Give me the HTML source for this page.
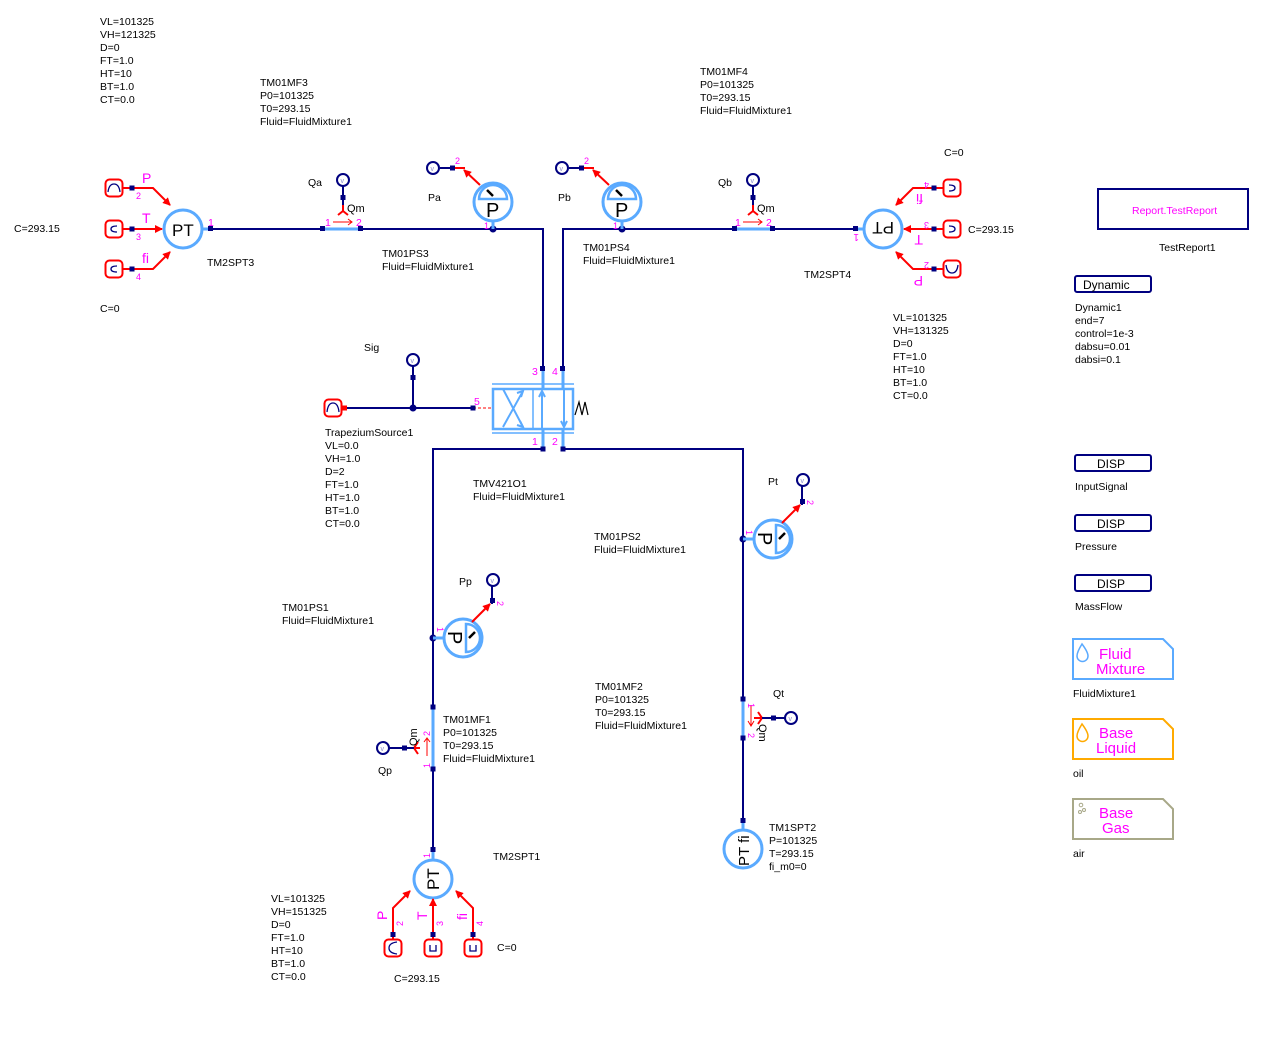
<!DOCTYPE html>
<html><head><meta charset="utf-8"><style>
html,body{margin:0;padding:0;background:#fff;}
svg{display:block;}
text{font-family:"Liberation Sans","DejaVu Sans",sans-serif;font-size:10.5px;fill:#000;}
.m{fill:#ff00ff;}
.nv{stroke:#000080;stroke-width:2;fill:none;}
.lb{stroke:#5aaaff;stroke-width:3;fill:none;}
.rd{stroke:#ff0000;stroke-width:2;fill:none;}
.sq{fill:#000080;}
</style></head><body>
<svg width="1283" height="1041" viewBox="0 0 1283 1041" xmlns="http://www.w3.org/2000/svg">
<defs>
  <marker id="ar" markerWidth="8" markerHeight="8" refX="7" refY="4" orient="auto" markerUnits="userSpaceOnUse">
    <path d="M0,0 L8,4 L0,8 z" fill="#ff0000"/>
  </marker>
  <g id="src">
    <rect x="-8.5" y="-8.5" width="17" height="17" rx="4" fill="#fff" stroke="#ff0000" stroke-width="2"/>
  </g>
  <g id="vc">
    <circle r="6" fill="#fff" stroke="#000080" stroke-width="2"/>
    <text x="-2.5" y="3" style="font-size:7px;fill:#8888cc">v</text>
  </g>
  <g id="psens">
    <circle r="19" fill="#fff" stroke="#5aaaff" stroke-width="3"/>
    <path d="M-14,-3 A14,14 0 0 1 14,-3 Z" fill="#fff" stroke="#5aaaff" stroke-width="2.5"/>
    <line x1="-6" y1="-12" x2="0" y2="-6" stroke="#000" stroke-width="2.5"/>
    <text x="-7" y="15" style="font-size:20px">P</text>
  </g>
</defs>

<!-- ===== Texts ===== -->
<g>
<text x="100" y="25">VL=101325<tspan x="100" dy="13">VH=121325</tspan><tspan x="100" dy="13">D=0</tspan><tspan x="100" dy="13">FT=1.0</tspan><tspan x="100" dy="13">HT=10</tspan><tspan x="100" dy="13">BT=1.0</tspan><tspan x="100" dy="13">CT=0.0</tspan></text>
<text x="260" y="86">TM01MF3<tspan x="260" dy="13">P0=101325</tspan><tspan x="260" dy="13">T0=293.15</tspan><tspan x="260" dy="13">Fluid=FluidMixture1</tspan></text>
<text x="700" y="75">TM01MF4<tspan x="700" dy="13">P0=101325</tspan><tspan x="700" dy="13">T0=293.15</tspan><tspan x="700" dy="13">Fluid=FluidMixture1</tspan></text>
<text x="944" y="156">C=0</text>
<text x="14" y="232">C=293.15</text>
<text x="100" y="312">C=0</text>
<text x="207" y="266">TM2SPT3</text>
<text x="308" y="186">Qa</text>
<text x="428" y="201">Pa</text>
<text x="558" y="201">Pb</text>
<text x="718" y="186">Qb</text>
<text x="382" y="257">TM01PS3<tspan x="382" dy="13">Fluid=FluidMixture1</tspan></text>
<text x="583" y="251">TM01PS4<tspan x="583" dy="13">Fluid=FluidMixture1</tspan></text>
<text x="968" y="233">C=293.15</text>
<text x="804" y="278">TM2SPT4</text>
<text x="893" y="321">VL=101325<tspan x="893" dy="13">VH=131325</tspan><tspan x="893" dy="13">D=0</tspan><tspan x="893" dy="13">FT=1.0</tspan><tspan x="893" dy="13">HT=10</tspan><tspan x="893" dy="13">BT=1.0</tspan><tspan x="893" dy="13">CT=0.0</tspan></text>
<text x="364" y="351">Sig</text>
<text x="325" y="436">TrapeziumSource1<tspan x="325" dy="13">VL=0.0</tspan><tspan x="325" dy="13">VH=1.0</tspan><tspan x="325" dy="13">D=2</tspan><tspan x="325" dy="13">FT=1.0</tspan><tspan x="325" dy="13">HT=1.0</tspan><tspan x="325" dy="13">BT=1.0</tspan><tspan x="325" dy="13">CT=0.0</tspan></text>
<text x="473" y="487">TMV421O1<tspan x="473" dy="13">Fluid=FluidMixture1</tspan></text>
<text x="594" y="540">TM01PS2<tspan x="594" dy="13">Fluid=FluidMixture1</tspan></text>
<text x="768" y="485">Pt</text>
<text x="459" y="585">Pp</text>
<text x="282" y="611">TM01PS1<tspan x="282" dy="13">Fluid=FluidMixture1</tspan></text>
<text x="595" y="690">TM01MF2<tspan x="595" dy="13">P0=101325</tspan><tspan x="595" dy="13">T0=293.15</tspan><tspan x="595" dy="13">Fluid=FluidMixture1</tspan></text>
<text x="773" y="697">Qt</text>
<text x="443" y="723">TM01MF1<tspan x="443" dy="13">P0=101325</tspan><tspan x="443" dy="13">T0=293.15</tspan><tspan x="443" dy="13">Fluid=FluidMixture1</tspan></text>
<text x="378" y="774">Qp</text>
<text x="769" y="831">TM1SPT2<tspan x="769" dy="13">P=101325</tspan><tspan x="769" dy="13">T=293.15</tspan><tspan x="769" dy="13">fi_m0=0</tspan></text>
<text x="493" y="860">TM2SPT1</text>
<text x="271" y="902">VL=101325<tspan x="271" dy="13">VH=151325</tspan><tspan x="271" dy="13">D=0</tspan><tspan x="271" dy="13">FT=1.0</tspan><tspan x="271" dy="13">HT=10</tspan><tspan x="271" dy="13">BT=1.0</tspan><tspan x="271" dy="13">CT=0.0</tspan></text>
<text x="497" y="951">C=0</text>
<text x="394" y="982">C=293.15</text>
</g>

<!-- ===== Right panel ===== -->
<rect x="1098" y="189" width="150" height="40" fill="none" stroke="#000080" stroke-width="2"/>
<text x="1132" y="214" class="m">Report.TestReport</text>
<text x="1159" y="251">TestReport1</text>
<rect x="1075" y="276" width="76" height="16" rx="2" fill="none" stroke="#000080" stroke-width="2"/>
<text x="1083" y="289" style="font-size:12px">Dynamic</text>
<text x="1075" y="311">Dynamic1<tspan x="1075" dy="13">end=7</tspan><tspan x="1075" dy="13">control=1e-3</tspan><tspan x="1075" dy="13">dabsu=0.01</tspan><tspan x="1075" dy="13">dabsi=0.1</tspan></text>
<rect x="1075" y="455" width="76" height="16" rx="2" fill="none" stroke="#000080" stroke-width="2"/>
<text x="1097" y="468" style="font-size:12px">DISP</text>
<text x="1075" y="490">InputSignal</text>
<rect x="1075" y="515" width="76" height="16" rx="2" fill="none" stroke="#000080" stroke-width="2"/>
<text x="1097" y="528" style="font-size:12px">DISP</text>
<text x="1075" y="550">Pressure</text>
<rect x="1075" y="575" width="76" height="16" rx="2" fill="none" stroke="#000080" stroke-width="2"/>
<text x="1097" y="588" style="font-size:12px">DISP</text>
<text x="1075" y="610">MassFlow</text>

<path d="M1073,639 H1163 L1173,649 V679 H1073 Z" fill="none" stroke="#5aaaff" stroke-width="2"/>
<path d="M1082,644 Q1088,652 1088,656 A5,5 0 0 1 1077,656 Q1077,652 1082,644 Z" fill="none" stroke="#5aaaff" stroke-width="1.5"/>
<text x="1099" y="659" class="m" style="font-size:15px">Fluid</text>
<text x="1096" y="674" class="m" style="font-size:15px">Mixture</text>
<text x="1073" y="697">FluidMixture1</text>

<path d="M1073,719 H1163 L1173,729 V759 H1073 Z" fill="none" stroke="#ffaa00" stroke-width="2"/>
<path d="M1082,724 Q1088,732 1088,736 A5,5 0 0 1 1077,736 Q1077,732 1082,724 Z" fill="none" stroke="#ffaa00" stroke-width="1.5"/>
<text x="1099" y="738" class="m" style="font-size:15px">Base</text>
<text x="1096" y="753" class="m" style="font-size:15px">Liquid</text>
<text x="1073" y="777">oil</text>

<path d="M1073,799 H1163 L1173,809 V839 H1073 Z" fill="none" stroke="#a8a888" stroke-width="2"/>
<circle cx="1081" cy="805" r="1.8" fill="none" stroke="#a8a888"/><circle cx="1084" cy="810" r="1.5" fill="none" stroke="#a8a888"/><circle cx="1080" cy="812" r="1.5" fill="none" stroke="#a8a888"/>
<text x="1099" y="818" class="m" style="font-size:15px">Base</text>
<text x="1102" y="833" class="m" style="font-size:15px">Gas</text>
<text x="1073" y="857">air</text>

<!-- ===== Top pipes ===== -->
<path class="nv" d="M211,229 H323"/>
<path class="lb" d="M323,229 H361"/>
<path class="nv" d="M361,229 H543 V367"/>
<path class="nv" d="M563,367 V229 H735"/>
<path class="lb" d="M735,229 H773"/>
<path class="nv" d="M773,229 H857"/>
<line x1="202" y1="229" x2="211" y2="229" class="lb"/>
<line x1="857" y1="229" x2="864" y2="229" class="lb"/>
<g class="sq">
<rect x="208" y="226" width="5" height="5"/><rect x="320" y="226" width="5" height="5"/><rect x="358" y="226" width="5" height="5"/>
<rect x="732" y="226" width="5" height="5"/><rect x="770" y="226" width="5" height="5"/><rect x="853" y="226" width="5" height="5"/>
<rect x="540" y="366" width="5" height="5"/><rect x="560" y="366" width="5" height="5"/>
</g>
<circle cx="493" cy="229" r="3.5" fill="#000080"/>
<circle cx="622" cy="229" r="3.5" fill="#000080"/>
<text x="208" y="226" class="m">1</text>
<text x="325" y="226" class="m">1</text><text x="356" y="226" class="m">2</text>
<text x="735" y="226" class="m">1</text><text x="766" y="226" class="m">2</text>
<line x1="333" y1="222" x2="352" y2="222" stroke="#ff0000" stroke-width="1"/><path d="M348,219 L352,222 L348,225" fill="none" stroke="#ff0000"/>
<line x1="743" y1="222" x2="762" y2="222" stroke="#ff0000" stroke-width="1"/><path d="M758,219 L762,222 L758,225" fill="none" stroke="#ff0000"/>

<!-- Qa / Qb -->
<g transform="translate(343,0)">
<line x1="0" y1="186" x2="0" y2="211" class="nv"/>
<rect x="-2.5" y="195" width="5" height="5" class="sq"/>
<path d="M0,205 V211 M-5,215 L0,211 L5,215" class="rd"/>
<use href="#vc" y="180"/>
<text x="4" y="212" style="font-size:11px">Qm</text>
</g>
<g transform="translate(753,0)">
<line x1="0" y1="186" x2="0" y2="211" class="nv"/>
<rect x="-2.5" y="195" width="5" height="5" class="sq"/>
<path d="M0,205 V211 M-5,215 L0,211 L5,215" class="rd"/>
<use href="#vc" y="180"/>
<text x="4" y="212" style="font-size:11px">Qm</text>
</g>

<!-- Pa / Pb sensors -->
<g transform="translate(493,0)">
<line x1="0" y1="222" x2="0" y2="229" class="lb"/>
<use href="#psens" y="202"/>
<text x="-9" y="229" class="m" style="font-size:9px">1</text>
<path d="M-13,185 L-29,170" class="rd" marker-end="url(#ar)"/>
<path d="M-28,168 H-41" class="rd"/>
<line x1="-53" y1="168" x2="-41" y2="168" class="nv"/>
<rect x="-43" y="165.5" width="5" height="5" class="sq"/>
<use href="#vc" x="-60" y="168"/>
<text x="-38" y="164" class="m" style="font-size:9px">2</text>
</g>
<g transform="translate(622,0)">
<line x1="0" y1="222" x2="0" y2="229" class="lb"/>
<use href="#psens" y="202"/>
<text x="-9" y="229" class="m" style="font-size:9px">1</text>
<path d="M-13,185 L-29,170" class="rd" marker-end="url(#ar)"/>
<path d="M-28,168 H-41" class="rd"/>
<line x1="-53" y1="168" x2="-41" y2="168" class="nv"/>
<rect x="-43" y="165.5" width="5" height="5" class="sq"/>
<use href="#vc" x="-60" y="168"/>
<text x="-38" y="164" class="m" style="font-size:9px">2</text>
</g>

<!-- PT3 left -->
<circle cx="183" cy="229" r="19" fill="#fff" stroke="#5aaaff" stroke-width="3"/>
<text x="172" y="236" style="font-size:17px">PT</text>
<use href="#src" x="114" y="188"/><use href="#src" x="114" y="229"/><use href="#src" x="114" y="269"/>
<path d="M108,192 Q109,184 114,184 Q119,184 120,192" fill="none" stroke="#000080" stroke-width="1.3"/>
<path d="M117,226 Q111,226 111,229 Q111,232 117,232" fill="none" stroke="#000080" stroke-width="1.3"/>
<path d="M117,266 Q111,266 111,269 Q111,272 117,272" fill="none" stroke="#000080" stroke-width="1.3"/>
<path d="M123,188 H153 L170,205" class="rd" marker-end="url(#ar)"/>
<path d="M123,229 H162" class="rd" marker-end="url(#ar)"/>
<path d="M123,269 H153 L170,252" class="rd" marker-end="url(#ar)"/>
<g class="sq"><rect x="129.5" y="185.5" width="5" height="5"/><rect x="129.5" y="226.5" width="5" height="5"/><rect x="129.5" y="266.5" width="5" height="5"/></g>
<text x="142" y="183" class="m" style="font-size:14px">P</text>
<text x="142" y="223" class="m" style="font-size:14px">T</text>
<text x="142" y="263" class="m" style="font-size:14px">fi</text>
<text x="136" y="199" class="m" style="font-size:9px">2</text>
<text x="136" y="240" class="m" style="font-size:9px">3</text>
<text x="136" y="280" class="m" style="font-size:9px">4</text>

<!-- PT4 right (rotated 180) -->
<circle cx="883" cy="229" r="19" fill="#fff" stroke="#5aaaff" stroke-width="3"/>
<text x="-894" y="-222" transform="scale(-1,-1)" style="font-size:17px">PT</text>
<use href="#src" x="952" y="188"/><use href="#src" x="952" y="229"/><use href="#src" x="952" y="269"/>
<path d="M949,185 Q955,185 955,188 Q955,191 949,191" fill="none" stroke="#000080" stroke-width="1.3"/>
<path d="M949,226 Q955,226 955,229 Q955,232 949,232" fill="none" stroke="#000080" stroke-width="1.3"/>
<path d="M946,265 Q947,273 952,273 Q957,273 958,265" fill="none" stroke="#000080" stroke-width="1.3"/>
<path d="M943,188 H913 L896,205" class="rd" marker-end="url(#ar)"/>
<path d="M943,229 H904" class="rd" marker-end="url(#ar)"/>
<path d="M943,269 H913 L896,252" class="rd" marker-end="url(#ar)"/>
<g class="sq"><rect x="931.5" y="185.5" width="5" height="5"/><rect x="931.5" y="226.5" width="5" height="5"/><rect x="931.5" y="266.5" width="5" height="5"/></g>
<text transform="rotate(180 859 234)" x="859" y="234" class="m" style="font-size:10px">1</text>
<text transform="rotate(180 929 182)" x="929" y="182" class="m" style="font-size:9px">4</text>
<text transform="rotate(180 929 222)" x="929" y="222" class="m" style="font-size:9px">3</text>
<text transform="rotate(180 929 262)" x="929" y="262" class="m" style="font-size:9px">2</text>
<text transform="rotate(180 923 194)" x="923" y="194" class="m" style="font-size:14px">fi</text>
<text transform="rotate(180 923 235)" x="923" y="235" class="m" style="font-size:14px">T</text>
<text transform="rotate(180 923 276)" x="923" y="276" class="m" style="font-size:14px">P</text>

<!-- Valve -->
<line x1="492" y1="384" x2="574" y2="384" stroke="#5aaaff" stroke-width="1.5"/>
<line x1="492" y1="433" x2="574" y2="433" stroke="#5aaaff" stroke-width="1.5"/>
<line x1="543" y1="371" x2="543" y2="388" class="lb" stroke-width="2"/>
<line x1="563" y1="371" x2="563" y2="388" class="lb" stroke-width="2"/>
<line x1="543" y1="428" x2="543" y2="447" class="lb" stroke-width="2"/>
<line x1="563" y1="428" x2="563" y2="447" class="lb" stroke-width="2"/>
<rect x="493" y="389" width="80" height="40" fill="none" stroke="#5aaaff" stroke-width="2.5"/>
<line x1="533" y1="389" x2="533" y2="429" stroke="#5aaaff" stroke-width="1.5"/>
<path d="M503,389 L523,427 M523,391 L503,427" stroke="#5aaaff" stroke-width="2" fill="none"/>
<path d="M521,397 L523,391 L517,393 M520,421 L523,427 L517,425" stroke="#5aaaff" stroke-width="2" fill="none"/>
<path d="M542,429 V392 M539,397 L542,391 L545,397" stroke="#5aaaff" stroke-width="2" fill="none"/>
<path d="M564,389 V426 M561,421 L564,427 L567,421" stroke="#5aaaff" stroke-width="2" fill="none"/>
<path d="M575,415 L579,402 L582,415 L585,402 L588,415" stroke="#000" stroke-width="1.2" fill="none"/>
<text x="532" y="375" class="m">3</text><text x="552" y="375" class="m">4</text>
<text x="532" y="445" class="m">1</text><text x="552" y="445" class="m">2</text>
<text x="474" y="405" class="m">5</text>
<line x1="473" y1="408" x2="492" y2="408" stroke="#ff0000" stroke-width="1" stroke-dasharray="3,2"/>

<!-- Sig -->
<use href="#src" x="333" y="408"/>
<path d="M327,412 Q328,403 333,403 Q338,403 339,412" fill="none" stroke="#000080" stroke-width="1.3"/>
<path class="nv" d="M342,408 H473 M413,408 V366"/>
<rect x="342" y="405.5" width="5" height="5" fill="#ff0000"/>
<rect x="410.5" y="375" width="5" height="5" class="sq"/>
<rect x="470.5" y="405.5" width="5" height="5" class="sq"/>
<circle cx="413" cy="408" r="3.5" fill="#000080"/>
<use href="#vc" x="413" y="360"/>

<!-- Bottom pipes -->
<path class="nv" d="M543,449 H433 V707"/>
<path class="lb" d="M433,707 V769"/>
<path class="nv" d="M433,769 V850"/>
<line x1="433" y1="850" x2="433" y2="860" class="lb"/>
<path class="nv" d="M563,449 H743 V699"/>
<path class="lb" d="M743,699 V738"/>
<path class="nv" d="M743,738 V820"/>
<line x1="743" y1="820" x2="743" y2="830" class="lb"/>
<g class="sq">
<rect x="540.5" y="446.5" width="5" height="5"/><rect x="560.5" y="446.5" width="5" height="5"/>
<rect x="430.5" y="704.5" width="5" height="5"/><rect x="430.5" y="766.5" width="5" height="5"/><rect x="430.5" y="847" width="5" height="5"/>
<rect x="740.5" y="696.5" width="5" height="5"/><rect x="740.5" y="735.5" width="5" height="5"/><rect x="740.5" y="818" width="5" height="5"/>
</g>
<circle cx="433" cy="638" r="3.5" fill="#000080"/>
<circle cx="743" cy="539" r="3.5" fill="#000080"/>

<!-- Pp sensor (rotated 90) -->
<line x1="433" y1="638" x2="444" y2="638" class="lb"/>
<g transform="translate(463,638) rotate(90)"><use href="#psens"/></g>
<path d="M472,622 L490,604" class="rd" marker-end="url(#ar)"/>
<line x1="492" y1="604" x2="492" y2="586" class="nv"/>
<rect x="490" y="598" width="5" height="5" class="sq"/>
<use href="#vc" x="493" y="580"/>
<text transform="rotate(90 497 601)" x="497" y="601" class="m" style="font-size:9px">2</text>
<text transform="rotate(90 437 627)" x="437" y="627" class="m" style="font-size:9px">1</text>

<!-- Pt sensor -->
<line x1="743" y1="539" x2="754" y2="539" class="lb"/>
<g transform="translate(773,539) rotate(90)"><use href="#psens"/></g>
<path d="M782,523 L800,505" class="rd" marker-end="url(#ar)"/>
<line x1="802" y1="505" x2="802" y2="486" class="nv"/>
<rect x="800" y="499" width="5" height="5" class="sq"/>
<use href="#vc" x="803" y="480"/>
<text transform="rotate(90 807 500)" x="807" y="500" class="m" style="font-size:9px">2</text>
<text transform="rotate(90 746 530)" x="746" y="530" class="m" style="font-size:9px">1</text>

<!-- Qp -->
<path d="M427,756 V739 M424,742 L427,738 L430,742" stroke="#ff0000" stroke-width="1" fill="none"/>
<path d="M420,748 H414 M418,742 L414,748 L418,754" class="rd"/>
<line x1="389" y1="748" x2="414" y2="748" class="nv"/>
<rect x="402" y="745.5" width="5" height="5" class="sq"/>
<use href="#vc" x="383" y="748"/>
<text transform="rotate(-90 417 746)" x="417" y="746" style="font-size:11px">Qm</text>
<text transform="rotate(-90 430 768)" x="430" y="768" class="m" style="font-size:9px">1</text>
<text transform="rotate(-90 430 736)" x="430" y="736" class="m" style="font-size:9px">2</text>

<!-- Qt -->
<path d="M751,705 V725 M748,721 L751,726 L754,721" stroke="#ff0000" stroke-width="1" fill="none"/>
<path d="M754,718 H762 M758,712 L762,718 L758,724" class="rd"/>
<line x1="762" y1="718" x2="785" y2="718" class="nv"/>
<rect x="771" y="715.5" width="5" height="5" class="sq"/>
<use href="#vc" x="791" y="718"/>
<text transform="rotate(90 759 724)" x="759" y="724" style="font-size:11px">Qm</text>
<text transform="rotate(90 748 703)" x="748" y="703" class="m" style="font-size:9px">1</text>
<text transform="rotate(90 748 733)" x="748" y="733" class="m" style="font-size:9px">2</text>

<!-- PT1 bottom -->
<circle cx="433" cy="879" r="19" fill="#fff" stroke="#5aaaff" stroke-width="3"/>
<text transform="rotate(-90 439 890)" x="439" y="890" style="font-size:17px">PT</text>
<text transform="rotate(-90 430 858)" x="430" y="858" class="m" style="font-size:9px">1</text>
<use href="#src" x="393" y="948"/><use href="#src" x="433" y="948"/><use href="#src" x="473" y="948"/>
<path d="M397,942 Q389,943 389,948 Q389,953 397,954" fill="none" stroke="#000080" stroke-width="1.3"/>
<path d="M430,945 V951 H436 V945" fill="none" stroke="#000080" stroke-width="1.3"/>
<path d="M470,945 V951 H476 V945" fill="none" stroke="#000080" stroke-width="1.3"/>
<path d="M393,939 V908 L410,891" class="rd" marker-end="url(#ar)"/>
<path d="M433,939 V899" class="rd" marker-end="url(#ar)"/>
<path d="M473,939 V908 L456,891" class="rd" marker-end="url(#ar)"/>
<g class="sq"><rect x="390.5" y="932" width="5" height="5"/><rect x="430.5" y="932" width="5" height="5"/><rect x="470.5" y="932" width="5" height="5"/></g>
<text transform="rotate(-90 387 920)" x="387" y="920" class="m" style="font-size:14px">P</text>
<text transform="rotate(-90 427 920)" x="427" y="920" class="m" style="font-size:14px">T</text>
<text transform="rotate(-90 467 920)" x="467" y="920" class="m" style="font-size:14px">fi</text>
<text transform="rotate(-90 403 926)" x="403" y="926" class="m" style="font-size:9px">2</text>
<text transform="rotate(-90 443 926)" x="443" y="926" class="m" style="font-size:9px">3</text>
<text transform="rotate(-90 483 926)" x="483" y="926" class="m" style="font-size:9px">4</text>

<!-- TM1SPT2 -->
<circle cx="743" cy="849" r="19" fill="#fff" stroke="#5aaaff" stroke-width="3"/>
<text transform="rotate(-90 749 866)" x="749" y="866" style="font-size:15px">PT fi</text>
</svg>
</body></html>
